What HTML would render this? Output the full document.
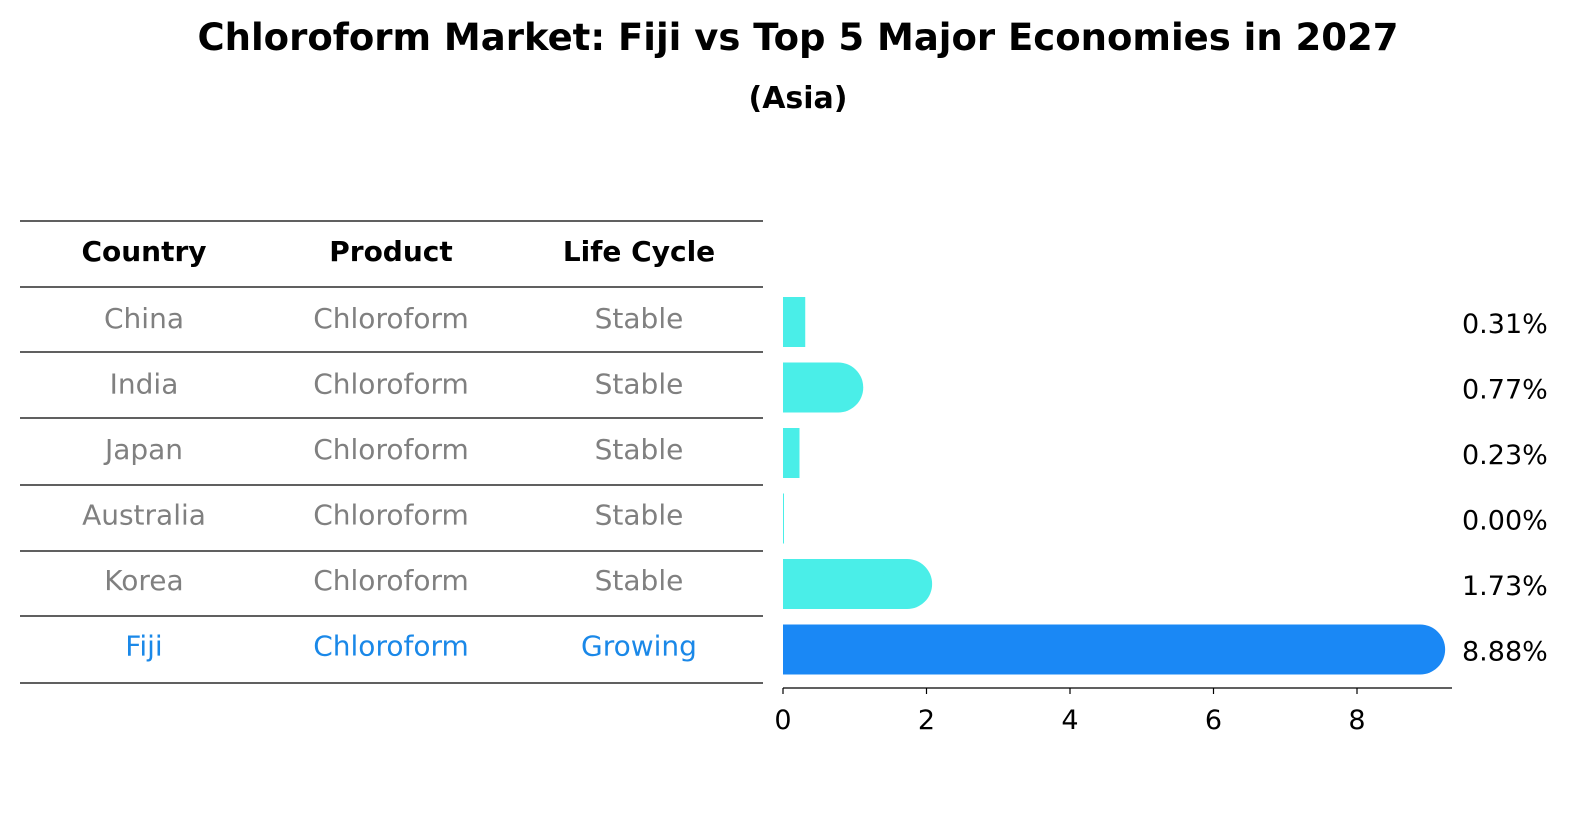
<!DOCTYPE html>
<html><head><meta charset="utf-8"><style>
html,body{margin:0;padding:0;background:#fff;overflow:hidden;width:1586px;height:823px;font-family:"DejaVu Sans","Liberation Sans",sans-serif;}
#wrap{position:relative;width:1586px;height:823px;overflow:hidden;}
svg{display:block;}
</style></head><body>
<div id="wrap">
<svg id="svg" width="1586" height="823" xmlns="http://www.w3.org/2000/svg">
<text x="798" y="50" text-anchor="middle" font-size="37" font-weight="bold" fill="#000">Chloroform Market: Fiji vs Top 5 Major Economies in 2027</text>
<text x="798" y="108" text-anchor="middle" font-size="30" font-weight="bold" fill="#000">(Asia)</text>
<g id="table"></g>
<g id="bars"></g>
</svg>
</div>
<script>
const countries=["China","India","Japan","Australia","Korea","Fiji"];
const products=["Chloroform","Chloroform","Chloroform","Chloroform","Chloroform","Chloroform"];
const cycles=["Stable","Stable","Stable","Stable","Stable","Growing"];
const values=[0.31,0.77,0.23,0.00,1.73,8.88];
const ticks=[0,2,4,6,8];
const NS="http://www.w3.org/2000/svg";
function mk(tag,attrs,parent){const e=document.createElementNS(NS,tag);for(const k in attrs)e.setAttribute(k,attrs[k]);parent.appendChild(e);return e;}
const xs=v=>783+v*71.75;
const rowY=i=>320+i*65.5;
const tbl=document.getElementById('table');
const lineYs=[221,287,352,418,485,551,616,683];
lineYs.forEach((y,i)=>{const l=mk('line',{x1:20,x2:763,y1:y,y2:y,stroke:'#000','stroke-width':1.2},tbl);

});
const colX=[144,391,639];
["Country","Product","Life Cycle"].forEach((h,j)=>{const t=mk('text',{x:colX[j],y:261,'text-anchor':'middle','font-size':28,'font-weight':'bold',fill:'#000'},tbl);t.textContent=h;

});
countries.forEach((c,i)=>{const fill=i===countries.length-1?'#1a88e8':'#808080';
[c,products[i],cycles[i]].forEach((s,j)=>{const t=mk('text',{x:colX[j],y:rowY(i)+8,'text-anchor':'middle','font-size':28,fill:fill},tbl);t.textContent=s;

});});
const bars=document.getElementById('bars');
const ax=mk('line',{x1:783,x2:1452,y1:688,y2:688,stroke:'#000','stroke-width':1.3},bars);


ticks.forEach(v=>{const l=mk('line',{x1:xs(v),x2:xs(v),y1:688,y2:694,stroke:'#000','stroke-width':1.2},bars);


const t=mk('text',{x:xs(v),y:729,'text-anchor':'middle','font-size':27,fill:'#000'},bars);t.textContent=v;

});
values.forEach((v,i)=>{const last=i===values.length-1;const col=last?'#1a88f5':'#4aeee8';
const cy=rowY(i)+2,h=50,w=Math.max(xs(v)-783,1);
const g=mk('g',{},bars);


mk('rect',{x:783,y:cy-h/2,width:w,height:h,fill:col},g);
if(v>0.5)mk('circle',{cx:783+w,cy:cy,r:h/2,fill:col},g);
const t=mk('text',{x:1462,y:cy+11,'font-size':27,fill:'#000'},bars);t.textContent=v.toFixed(2)+'%';

});
</script>
</body></html>
